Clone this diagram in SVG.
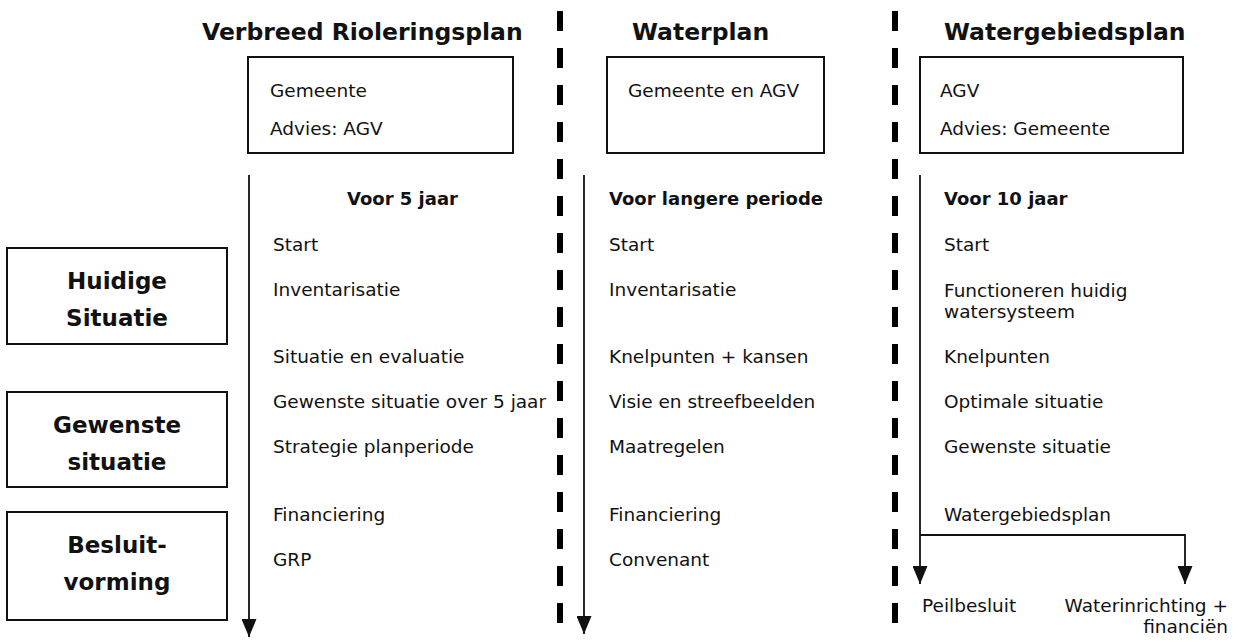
<svg xmlns="http://www.w3.org/2000/svg" width="1239" height="642" viewBox="0 0 1239 642">
<defs>
<style>
text{font-family:"DejaVu Sans","Liberation Sans",sans-serif;fill:#111}
.title{font-size:23.5px;font-weight:bold}
.t{font-size:18.5px}
.hb{font-size:18px;font-weight:bold}
.ph{font-size:23px;font-weight:bold;text-anchor:middle}
.box{fill:#fff;stroke:#111;stroke-width:2}
.sep{stroke:#000;stroke-width:6;stroke-dasharray:20 17;fill:none}
.ln{stroke:#111;stroke-width:1.8;fill:none}
</style>
<marker id="ah" markerWidth="18" markerHeight="15" refX="18" refY="7.5" orient="auto" markerUnits="userSpaceOnUse" viewBox="0 0 18 15">
<path d="M0,0 L18,7.5 L0,15 Z" fill="#111"/>
</marker>
</defs>
<rect width="1239" height="642" fill="#fff"/>

<g id="titles">
<text class="title" x="202" y="40">Verbreed Rioleringsplan</text>
<text class="title" x="632" y="40">Waterplan</text>
<text class="title" x="944" y="40">Watergebiedsplan</text>
</g>

<g id="separators">
<line class="sep" x1="560" y1="11" x2="560" y2="630"/>
<line class="sep" x1="895" y1="11" x2="895" y2="630"/>
</g>

<g id="box-riolering">
<rect class="box" x="248" y="57" width="265" height="96"/>
<text class="t" x="270" y="97">Gemeente</text>
<text class="t" x="270" y="135">Advies: AGV</text>
</g>
<g id="box-waterplan">
<rect class="box" x="607" y="57" width="217" height="96"/>
<text class="t" x="628" y="97">Gemeente en AGV</text>
</g>
<g id="box-watergebied">
<rect class="box" x="920" y="57" width="263" height="96"/>
<text class="t" x="940" y="97">AGV</text>
<text class="t" x="940" y="135">Advies: Gemeente</text>
</g>

<g id="phase-huidig">
<rect class="box" x="7" y="248" width="220" height="96"/>
<text class="ph" x="117" y="289">Huidige</text>
<text class="ph" x="117" y="326">Situatie</text>
</g>
<g id="phase-gewenst">
<rect class="box" x="7" y="392" width="220" height="95"/>
<text class="ph" x="117" y="433">Gewenste</text>
<text class="ph" x="117" y="470">situatie</text>
</g>
<g id="phase-besluit">
<rect class="box" x="7" y="512" width="220" height="108"/>
<text class="ph" x="117" y="553">Besluit-</text>
<text class="ph" x="117" y="590">vorming</text>
</g>

<g id="connectors">
<line class="ln" x1="249" y1="175" x2="249" y2="637" marker-end="url(#ah)"/>
<line class="ln" x1="584" y1="175" x2="584" y2="634" marker-end="url(#ah)"/>
<line class="ln" x1="920" y1="175" x2="920" y2="584" marker-end="url(#ah)"/>
<polyline class="ln" points="920,535 1185,535 1185,584" marker-end="url(#ah)"/>
</g>

<g id="col-riolering">
<text class="hb" x="347" y="205">Voor 5 jaar</text>
<text class="t" x="273" y="251">Start</text>
<text class="t" x="273" y="296">Inventarisatie</text>
<text class="t" x="273" y="363">Situatie en evaluatie</text>
<text class="t" x="273" y="408">Gewenste situatie over 5 jaar</text>
<text class="t" x="273" y="453">Strategie planperiode</text>
<text class="t" x="273" y="521">Financiering</text>
<text class="t" x="273" y="566">GRP</text>
</g>

<g id="col-waterplan">
<text class="hb" x="609" y="205">Voor langere periode</text>
<text class="t" x="609" y="251">Start</text>
<text class="t" x="609" y="296">Inventarisatie</text>
<text class="t" x="609" y="363">Knelpunten + kansen</text>
<text class="t" x="609" y="408">Visie en streefbeelden</text>
<text class="t" x="609" y="453">Maatregelen</text>
<text class="t" x="609" y="521">Financiering</text>
<text class="t" x="609" y="566">Convenant</text>
</g>

<g id="col-watergebied">
<text class="hb" x="944" y="205">Voor 10 jaar</text>
<text class="t" x="944" y="251">Start</text>
<text class="t" x="944" y="297">Functioneren huidig</text>
<text class="t" x="944" y="318">watersysteem</text>
<text class="t" x="944" y="363">Knelpunten</text>
<text class="t" x="944" y="408">Optimale situatie</text>
<text class="t" x="944" y="453">Gewenste situatie</text>
<text class="t" x="944" y="521">Watergebiedsplan</text>
</g>

<g id="outcomes">
<text class="t" x="922" y="612">Peilbesluit</text>
<text class="t" x="1228" y="612" text-anchor="end">Waterinrichting +</text>
<text class="t" x="1228" y="633" text-anchor="end">financiën</text>
</g>
</svg>
